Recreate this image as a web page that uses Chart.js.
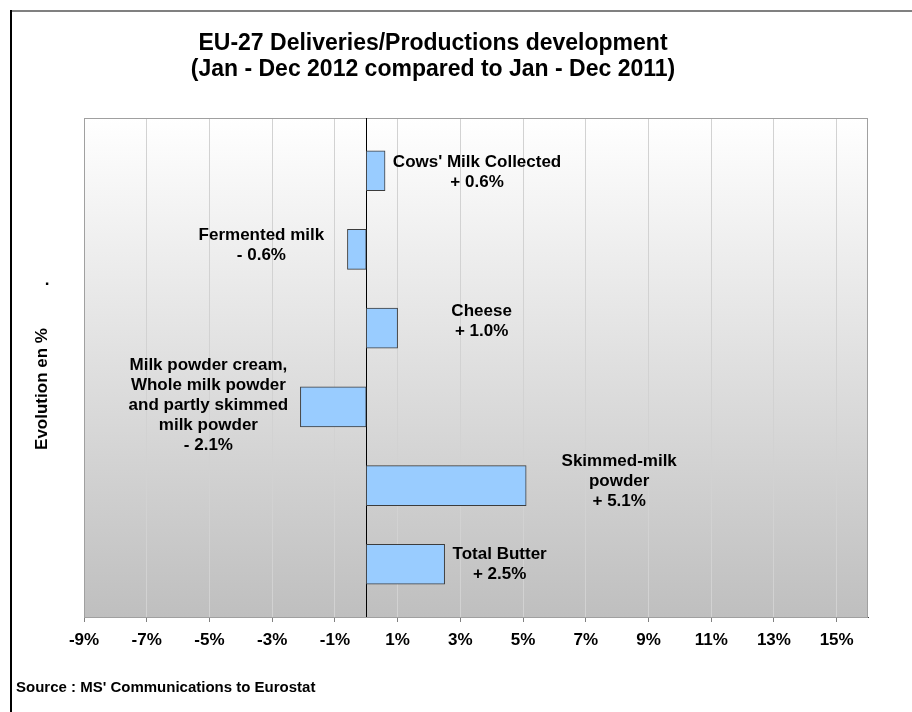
<!DOCTYPE html>
<html lang="en">
<head>
  <meta charset="UTF-8">
  <title>EU-27 Deliveries/Productions development</title>
  <script src="https://cdn.jsdelivr.net/npm/chart.js"></script>
  <style>
    html, body { margin: 0; padding: 0; background: #fff; overflow: hidden; }
    #chart { display: block; }
  </style>
</head>
<body>
  <canvas id="chart" width="912" height="712"></canvas>

  <script>
    const products = [
      ["Cows' Milk Collected"],
      ['Fermented milk'],
      ['Cheese'],
      ['Milk powder cream,', 'Whole milk powder', 'and partly skimmed', 'milk powder'],
      ['Skimmed-milk', 'powder'],
      ['Total Butter']
    ];
    const changes = [0.6, -0.6, 1.0, -2.1, 5.1, 2.5];
    const tickValues = [-9, -7, -5, -3, -1, 1, 3, 5, 7, 9, 11, 13, 15];

    const titleLines = ['EU-27 Deliveries/Productions development', '(Jan - Dec 2012 compared to Jan - Dec 2011)'];
    const axisTitle = 'Evolution en %';
    const sourceNote = "Source : MS' Communications to Eurostat";

    // labels were dragged by hand in the original, so nudge each one from its bar end (px)
    const labelDx = [92, -86, 84, -92, 93, 55];
    const labelDy = [2, -4, -7, -2, -4, 0];

    const FONT = "'Liberation Sans', Arial, sans-serif";

    function fmtChange(v) {
      return (v < 0 ? '- ' : '+ ') + Math.abs(v).toFixed(1) + '%';
    }

    const decor = {
      id: 'decor',
      beforeDraw(chart) {
        const { ctx, chartArea: a } = chart;
        ctx.save();
        // outer frame (only top and left fall inside the window)
        ctx.fillStyle = '#808080';
        ctx.fillRect(10, 10, 902, 2);
        ctx.fillStyle = '#000';
        ctx.fillRect(10, 10, 2, 702);
        // plot background gradient
        const g = ctx.createLinearGradient(0, a.top, 0, a.bottom);
        g.addColorStop(0, '#ffffff');
        g.addColorStop(1, '#bfbfbf');
        ctx.fillStyle = g;
        ctx.fillRect(a.left, a.top, a.right - a.left, a.bottom - a.top);
        ctx.restore();
      },
      beforeDatasetsDraw(chart) {
        const { ctx, chartArea: a } = chart;
        const x0 = Math.round(chart.scales.x.getPixelForValue(0)) + 0.5;
        ctx.save();
        ctx.strokeStyle = '#a0a0a0';
        ctx.lineWidth = 1;
        ctx.strokeRect(a.left + 0.5, a.top + 0.5, a.right - a.left - 1, a.bottom - a.top);
        ctx.strokeStyle = '#000';
        ctx.beginPath();
        ctx.moveTo(x0, a.top);
        ctx.lineTo(x0, a.bottom);
        ctx.stroke();
        ctx.restore();
      },
      afterDatasetsDraw(chart) {
        const { ctx } = chart;
        const meta = chart.getDatasetMeta(0);
        ctx.save();
        ctx.fillStyle = '#000';
        ctx.font = 'bold 17px ' + FONT;
        ctx.textAlign = 'center';
        ctx.textBaseline = 'middle';
        meta.data.forEach((bar, i) => {
          const lines = products[i].concat([fmtChange(changes[i])]);
          const cx = bar.x + labelDx[i];
          const cy = bar.y + labelDy[i];
          const y0 = cy - (lines.length - 1) * 10;
          lines.forEach((t, k) => ctx.fillText(t, cx, y0 + k * 20));
        });
        ctx.restore();
      },
      afterDraw(chart) {
        const { ctx } = chart;
        ctx.save();
        ctx.fillStyle = '#000';
        ctx.textBaseline = 'middle';

        ctx.textAlign = 'center';
        ctx.font = 'bold 23px ' + FONT;
        ctx.fillText(titleLines[0], 433, 44);
        ctx.fillText(titleLines[1], 433, 70);

        ctx.font = 'bold 17px ' + FONT;
        ctx.save();
        ctx.translate(42, 389);
        ctx.rotate(-Math.PI / 2);
        ctx.fillText(axisTitle, 0, 0);
        ctx.restore();
        ctx.fillText('.', 47, 280);

        ctx.textAlign = 'left';
        ctx.font = 'bold 15px ' + FONT;
        ctx.fillText(sourceNote, 16, 688);
        ctx.restore();
      }
    };

    new Chart(document.getElementById('chart'), {
      type: 'bar',
      data: {
        datasets: [{
          data: products.map((p, i) => ({ x: changes[i], y: i })),
          backgroundColor: '#99ccff',
          borderColor: '#3c3c3c',
          borderWidth: 1,
          borderSkipped: false,
          barThickness: 40
        }]
      },
      options: {
        indexAxis: 'y',
        responsive: false,
        animation: false,
        devicePixelRatio: 1,
        layout: { padding: { left: 84, right: 44, top: 118, bottom: 55 } },
        plugins: {
          legend: { display: false },
          tooltip: { enabled: false }
        },
        scales: {
          x: {
            type: 'linear',
            min: -9,
            max: 16,
            afterBuildTicks: s => { s.ticks = tickValues.map(v => ({ value: v })); },
            afterFit: s => { s.height = 40; },
            grid: { color: '#d2d2d2', lineWidth: 1, drawTicks: true, tickLength: 5, tickColor: '#808080' },
            border: { display: true, color: '#404040', width: 1 },
            ticks: {
              callback: v => v + '%',
              color: '#000',
              font: { family: FONT, size: 17, weight: 'bold' },
              padding: 8,
              maxRotation: 0,
              autoSkip: false
            }
          },
          y: {
            type: 'linear',
            min: -0.67,
            max: 5.67,
            reverse: true,
            offset: false,
            display: false
          }
        }
      },
      plugins: [decor]
    });
  </script>
</body>
</html>
